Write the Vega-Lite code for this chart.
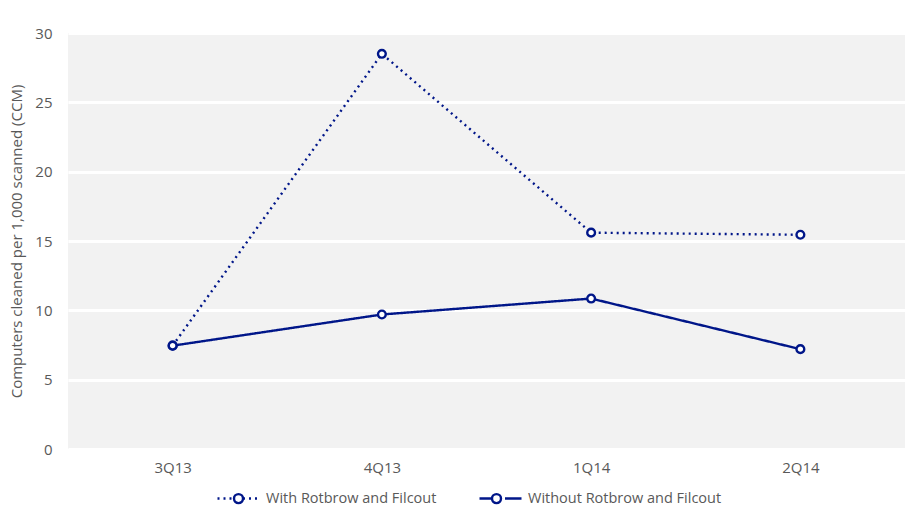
{
  "$schema": "https://vega.github.io/schema/vega-lite/v6.json",
  "width": 837,
  "height": 416,
  "autosize": "none",
  "padding": {"left": 68, "top": 33, "right": 11, "bottom": 67},
  "background": "white",
  "config": {
    "font": "Open Sans",
    "view": {"fill": "#f2f2f2", "stroke": null},
    "axis": {"labelColor": "#595959", "titleColor": "#595959", "labelFont": "Open Sans", "titleFont": "Open Sans"}
  },
  "data": {
    "values": [
      {"quarter": "3Q13", "series": "With Rotbrow and Filcout", "label": "With Rotbrow and Filcout", "ccm": 7.45},
      {"quarter": "4Q13", "series": "With Rotbrow and Filcout", "label": "With Rotbrow and Filcout", "ccm": 28.5},
      {"quarter": "1Q14", "series": "With Rotbrow and Filcout", "label": "With Rotbrow and Filcout", "ccm": 15.6},
      {"quarter": "2Q14", "series": "With Rotbrow and Filcout", "label": "With Rotbrow and Filcout", "ccm": 15.45},
      {"quarter": "3Q13", "series": "Without Rotbrow and Filcout", "label": "Without Rotbrow and Filcout", "ccm": 7.45},
      {"quarter": "4Q13", "series": "Without Rotbrow and Filcout", "label": "Without Rotbrow and Filcout", "ccm": 9.7},
      {"quarter": "1Q14", "series": "Without Rotbrow and Filcout", "label": "Without Rotbrow and Filcout", "ccm": 10.85},
      {"quarter": "2Q14", "series": "Without Rotbrow and Filcout", "label": "Without Rotbrow and Filcout", "ccm": 7.2}
    ]
  },
  "encoding": {
    "x": {
      "field": "quarter", "type": "ordinal", "sort": null,
      "scale": {"type": "point", "padding": 0.5},
      "axis": {"title": null, "domain": false, "ticks": false, "labelAngle": 0, "labelFontSize": 15, "labelPadding": 11, "grid": false}
    },
    "y": {
      "field": "ccm", "type": "quantitative",
      "scale": {"domain": [0, 30], "nice": false},
      "axis": {
        "title": "Computers cleaned per 1,000 scanned (CCM)",
        "titleFontSize": 15, "titleFontWeight": "normal", "titlePadding": 10,
        "values": [0, 5, 10, 15, 20, 25, 30],
        "domain": false, "ticks": false, "labelFontSize": 15, "labelPadding": 16,
        "grid": true, "gridColor": "white", "gridWidth": 3
      }
    }
  },
  "layer": [
    {
      "mark": {"type": "line", "stroke": "#001689", "strokeWidth": 2.4},
      "encoding": {
        "strokeDash": {
          "field": "series", "type": "nominal",
          "scale": {"range": [[2, 4], [1, 0]]},
          "legend": {
            "title": null, "orient": "none", "direction": "horizontal",
            "legendX": 148, "legendY": 443, "padding": 0,
            "symbolType": "M-1,0H-0.214M0.214,0H1", "symbolSize": 1764,
            "symbolStrokeColor": "#001689", "symbolStrokeWidth": 2.4,
            "labelFontSize": 14.5, "labelColor": "#595959", "labelFont": "Open Sans", "labelLimit": 400,
            "labelOffset": 5, "columnPadding": 37
          }
        }
      }
    },
    {
      "mark": {"type": "point", "shape": "circle", "filled": true, "stroke": "#001689", "strokeWidth": 2.4, "size": 60, "opacity": 1},
      "encoding": {
        "fill": {
          "field": "label", "type": "nominal",
          "scale": {"range": ["white", "white"]},
          "legend": {
            "title": null, "orient": "none", "direction": "horizontal",
            "legendX": 148, "legendY": 443, "padding": 0,
            "symbolType": "M0.214,0A0.214,0.214,0,1,1,-0.214,0A0.214,0.214,0,1,1,0.214,0Z", "symbolSize": 1764,
            "symbolStrokeColor": "#001689", "symbolStrokeWidth": 2.4, "symbolOpacity": 1,
            "labelFontSize": 14.5, "labelColor": "#595959", "labelFont": "Open Sans", "labelOpacity": 0, "labelLimit": 400,
            "labelOffset": 5, "columnPadding": 37
          }
        }
      }
    }
  ]
}
